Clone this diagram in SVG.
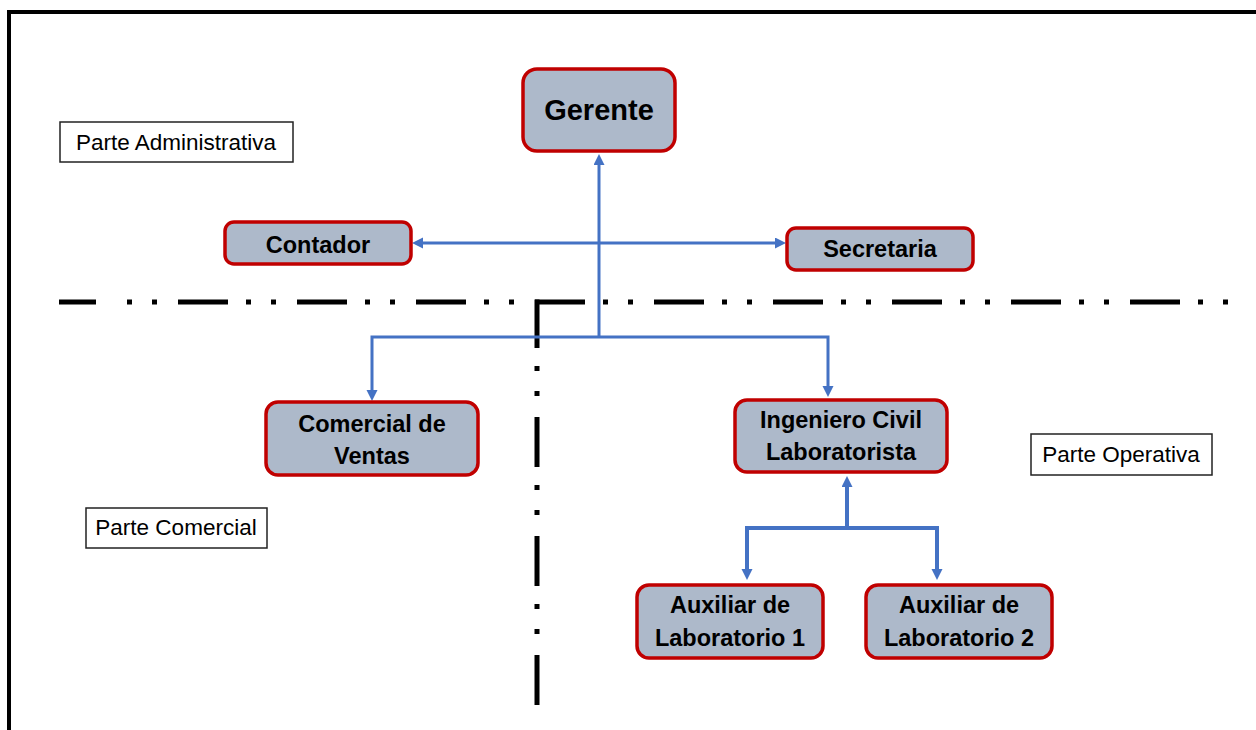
<svg xmlns="http://www.w3.org/2000/svg" width="1256" height="730" viewBox="0 0 1256 730">
<style>
.node rect{fill:#ADB9CA;stroke:#C00000;stroke-width:3.5}
.node text{font-family:"Liberation Sans",Arial,sans-serif;font-weight:bold;font-size:23.5px;fill:#000;text-anchor:middle}
.label rect{fill:#fff;stroke:#222;stroke-width:1.5}
.label text{font-family:"Liberation Sans",Arial,sans-serif;font-size:22.5px;fill:#000;text-anchor:middle}
.div{stroke:#000;stroke-width:5;fill:none;stroke-linecap:butt}
.conn path{fill:none;stroke:#4472C4;stroke-linejoin:miter}
</style>
<defs>
<marker id="ah" markerUnits="userSpaceOnUse" markerWidth="12" markerHeight="12" refX="2" refY="5.5" orient="auto-start-reverse">
<path d="M0,0 L11,5.5 L0,11 z" fill="#4472C4"/>
</marker>
</defs>
<rect width="1256" height="730" fill="#fff"/>
<path d="M9,734 V12 H1260" fill="none" stroke="#000" stroke-width="4"/>
<g id="dividers">
<line class="div" x1="59" y1="302" x2="96" y2="302"/>
<line class="div" x1="127" y1="302" x2="1228" y2="302" stroke-dasharray="5 20 5 21 50 18"/>
<line class="div" x1="537" y1="299.5" x2="537" y2="705" stroke-dasharray="50 18 5 20 5 21" stroke-dashoffset="1.5"/>
</g>
<g id="connectors" class="conn">
<path d="M421,243 H777" stroke-width="3" marker-start="url(#ah)" marker-end="url(#ah)"/>
<path d="M599,337 V163" stroke-width="3" marker-end="url(#ah)"/>
<path d="M599,337 H372 V392" stroke-width="3" marker-end="url(#ah)"/>
<path d="M599,337 H828 V388" stroke-width="3" marker-end="url(#ah)"/>
<path d="M847,528 V485" stroke-width="4" marker-end="url(#ah)"/>
<path d="M747,571 V528 H937 V571" stroke-width="4" marker-start="url(#ah)" marker-end="url(#ah)"/>
</g>
<g id="label-admin" class="label">
<rect x="60" y="122" width="233" height="40"/>
<text x="176" y="150">Parte Administrativa</text>
</g>
<g id="label-comercial" class="label">
<rect x="86" y="508" width="181" height="40"/>
<text x="176" y="535">Parte Comercial</text>
</g>
<g id="label-operativa" class="label">
<rect x="1031" y="434" width="181" height="41"/>
<text x="1121" y="462">Parte Operativa</text>
</g>
<g id="gerente" class="node">
<rect x="523" y="69" width="152" height="82" rx="14"/>
<text x="599" y="120" style="font-size:29px">Gerente</text>
</g>
<g id="contador" class="node">
<rect x="225" y="222" width="186" height="42" rx="9"/>
<text x="318" y="253">Contador</text>
</g>
<g id="secretaria" class="node">
<rect x="787" y="228" width="186" height="42" rx="9"/>
<text x="880" y="257">Secretaria</text>
</g>
<g id="comercial" class="node">
<rect x="266" y="402" width="212" height="73" rx="12"/>
<text x="372" y="432">Comercial de</text>
<text x="372" y="464">Ventas</text>
</g>
<g id="ingeniero" class="node">
<rect x="735" y="400" width="212" height="72" rx="12"/>
<text x="841" y="428">Ingeniero Civil</text>
<text x="841" y="460">Laboratorista</text>
</g>
<g id="auxiliar1" class="node">
<rect x="637" y="585" width="186" height="73" rx="12"/>
<text x="730" y="613">Auxiliar de</text>
<text x="730" y="646">Laboratorio 1</text>
</g>
<g id="auxiliar2" class="node">
<rect x="866" y="585" width="186" height="73" rx="12"/>
<text x="959" y="613">Auxiliar de</text>
<text x="959" y="646">Laboratorio 2</text>
</g>
</svg>
